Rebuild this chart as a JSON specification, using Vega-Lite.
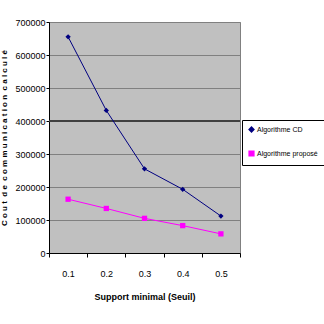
{
  "$schema": "https://vega.github.io/schema/vega-lite/v6.json",
  "width": 191,
  "height": 231,
  "autosize": {"type": "none"},
  "padding": {"left": 49, "top": 22, "right": 84, "bottom": 71},
  "background": "white",
  "config": {
    "font": "Liberation Sans",
    "view": {"fill": "#c0c0c0", "stroke": "#808080", "strokeWidth": 1},
    "axisY": {
      "titleFontSize": 8, "titleFontWeight": "bold", "titleColor": "black", "titlePadding": 6,
      "format": "d", "labelOverlap": false, "tickCount": 10,
      "labelFontSize": 9, "labelColor": "black", "labelPadding": 1,
      "tickColor": "black", "tickSize": 3, "domainColor": "black",
      "grid": true, "gridColor": "#808080", "gridOpacity": 1
    }
  },
  "data": {
    "values": [
      {"s": "0.1", "algo": "Algorithme CD", "v": 655000},
      {"s": "0.2", "algo": "Algorithme CD", "v": 432000},
      {"s": "0.3", "algo": "Algorithme CD", "v": 255000},
      {"s": "0.4", "algo": "Algorithme CD", "v": 193000},
      {"s": "0.5", "algo": "Algorithme CD", "v": 112000},
      {"s": "0.1", "algo": "Algorithme proposé", "v": 163000},
      {"s": "0.2", "algo": "Algorithme proposé", "v": 135000},
      {"s": "0.3", "algo": "Algorithme proposé", "v": 105000},
      {"s": "0.4", "algo": "Algorithme proposé", "v": 83000},
      {"s": "0.5", "algo": "Algorithme proposé", "v": 58000}
    ]
  },
  "layer": [
    {
      "data": {"values": [{"g": 400000}]},
      "mark": {"type": "rule", "color": "#404040", "strokeWidth": 2},
      "encoding": {"y": {"field": "g", "type": "quantitative", "scale": {"domain": [0, 700000], "nice": false},
        "axis": {"title": "C\u00a0o\u00a0u\u00a0t\u00a0\u00a0d\u00a0e\u00a0\u00a0c\u00a0o\u00a0m\u00a0m\u00a0u\u00a0n\u00a0i\u00a0c\u00a0a\u00a0t\u00a0i\u00a0o\u00a0n\u00a0\u00a0c\u00a0a\u00a0l\u00a0c\u00a0u\u00a0l\u00a0é",
          "tickCount": 10,
          "values": [0, 100000, 200000, 300000, 400000, 500000, 600000, 700000]}}}
    },
    {
      "mark": {"type": "line", "strokeWidth": 1, "point": {"size": 28, "filled": true, "opacity": 1}},
      "encoding": {
        "x": {
          "field": "s", "type": "ordinal",
          "scale": {"paddingInner": 0, "paddingOuter": 0},
          "axis": {
            "title": "Support minimal (Seuil)",
            "titleFontSize": 9, "titleFontWeight": "bold",
            "titlePadding": 14, "titleColor": "black",
            "labelAngle": 0, "labelFontSize": 9, "labelColor": "black", "labelPadding": 12,
            "tickBand": "extent", "tickColor": "black", "tickSize": 4,
            "domainColor": "black", "grid": false
          }
        },
        "y": {
          "field": "v", "type": "quantitative",
          "scale": {"domain": [0, 700000], "nice": false},
          "axis": {"title": "C\u00a0o\u00a0u\u00a0t\u00a0\u00a0d\u00a0e\u00a0\u00a0c\u00a0o\u00a0m\u00a0m\u00a0u\u00a0n\u00a0i\u00a0c\u00a0a\u00a0t\u00a0i\u00a0o\u00a0n\u00a0\u00a0c\u00a0a\u00a0l\u00a0c\u00a0u\u00a0l\u00a0é",
            "tickCount": 10,
            "values": [0, 100000, 200000, 300000, 400000, 500000, 600000, 700000]}
        },
        "color": {
          "field": "algo", "type": "nominal",
          "scale": {"domain": ["Algorithme CD", "Algorithme proposé"], "range": ["#000080", "#ff00ff"]},
          "legend": {
            "title": null, "orient": "none", "legendX": 193, "legendY": 98,
            "fillColor": "white", "strokeColor": "black", "padding": 6,
            "labelFontSize": 7, "labelColor": "black", "rowPadding": 13, "labelOffset": 2,
            "symbolSize": 22, "labelLimit": 70
          }
        },
        "shape": {
          "field": "algo", "type": "nominal",
          "scale": {"domain": ["Algorithme CD", "Algorithme proposé"], "range": ["diamond", "square"]},
          "legend": null
        }
      }
    }
  ]
}
